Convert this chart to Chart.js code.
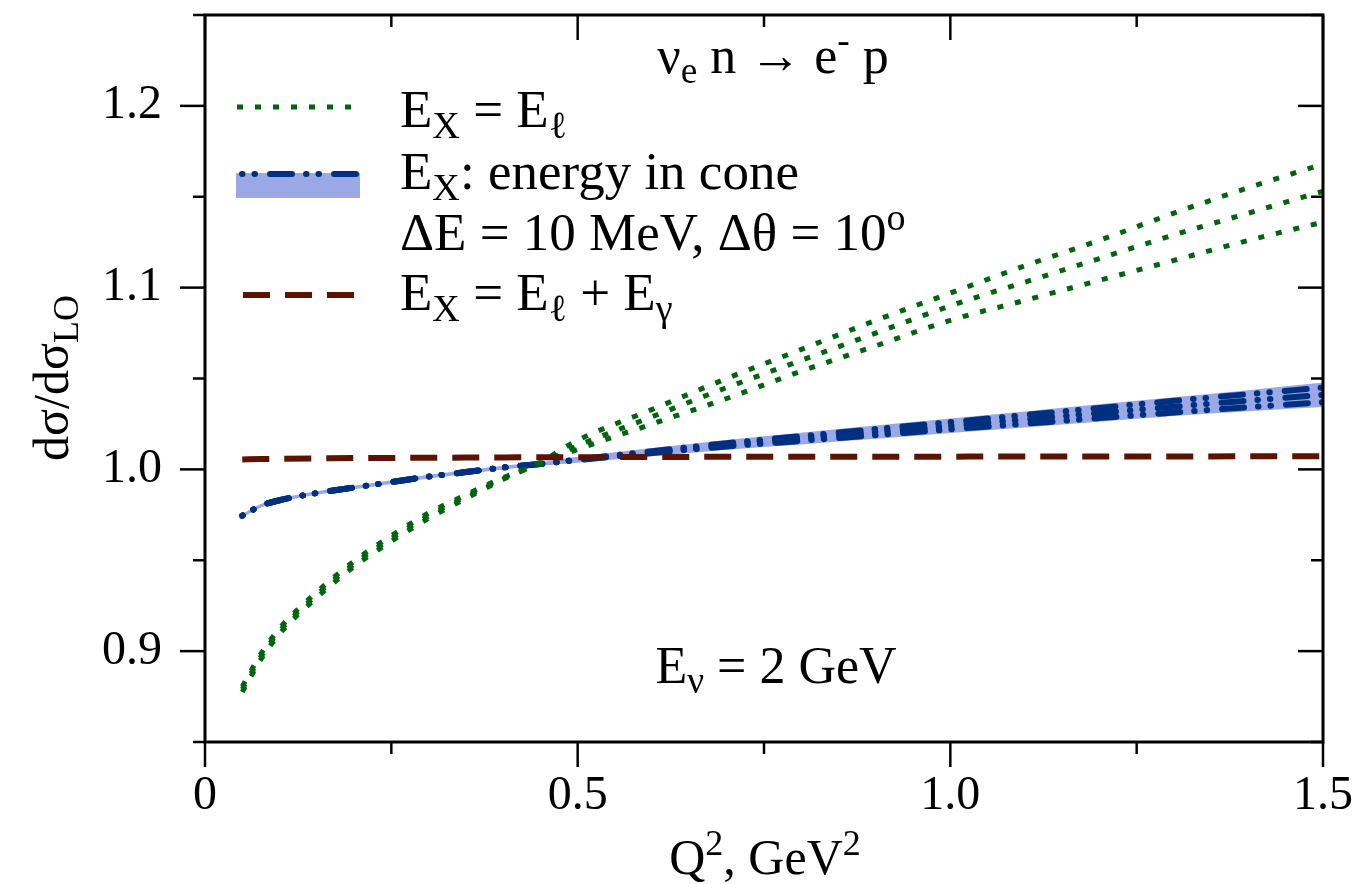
<!DOCTYPE html>
<html>
<head>
<meta charset="utf-8">
<script src="https://cdn.jsdelivr.net/npm/chart.js@4.4.1/dist/chart.umd.min.js"></script>
<style>
  html, body { margin: 0; padding: 0; background: #fff; }
  #chart { display: block; }
</style>
</head>
<body>
<canvas id="chart" width="1358" height="884"></canvas>
<script>
// Q^2 grid (GeV^2) shared by all curves
const q2 = [0.05, 0.075, 0.1, 0.15, 0.2, 0.25, 0.3, 0.35, 0.4, 0.45, 0.5,
            0.6, 0.7, 0.8, 0.9, 1.0, 1.1, 1.2, 1.3, 1.4, 1.5];

// E_X = E_l : three dotted curves
const lepHigh = [0.8775, 0.8955, 0.9095, 0.9295, 0.9465, 0.9605, 0.973, 0.9840, 0.9945, 1.0040, 1.0160,
                 1.033, 1.050, 1.066, 1.082, 1.097, 1.112, 1.126, 1.141, 1.155, 1.168];
const lepMid  = [0.879, 0.897, 0.911, 0.931, 0.948, 0.962, 0.9745, 0.9850, 0.9950, 1.0035, 1.0130,
                 1.029, 1.045, 1.060, 1.075, 1.090, 1.103, 1.116, 1.129, 1.141, 1.153];
const lepLow  = [0.8805, 0.8985, 0.9125, 0.9325, 0.9495, 0.9635, 0.976, 0.9860, 0.9955, 1.0030, 1.0110,
                 1.025, 1.039, 1.054, 1.068, 1.082, 1.093, 1.104, 1.115, 1.126, 1.136];

// E_X: energy in cone, three dash-dot curves and the band around them
const coneHigh = [0.9745, 0.980, 0.983, 0.987, 0.990, 0.993, 0.996, 0.9985, 1.001, 1.003, 1.0055,
                  1.0100, 1.0144, 1.0183, 1.0222, 1.0260, 1.0299, 1.0338, 1.0377, 1.0414, 1.0450];
const coneMid  = [0.9745, 0.980, 0.983, 0.987, 0.990, 0.993, 0.996, 0.9985, 1.001, 1.003, 1.0053,
                  1.0095, 1.0135, 1.0170, 1.0205, 1.0240, 1.0275, 1.0310, 1.0345, 1.0378, 1.0410];
const coneLow  = [0.9745, 0.980, 0.983, 0.987, 0.990, 0.993, 0.996, 0.9985, 1.001, 1.003, 1.0051,
                  1.0090, 1.0126, 1.0157, 1.0188, 1.0220, 1.0251, 1.0282, 1.0313, 1.0342, 1.0370];
const bandHigh = [0.9755, 0.981, 0.984, 0.988, 0.991, 0.994, 0.997, 0.9995, 1.002, 1.004, 1.0070,
                  1.0118, 1.0162, 1.0202, 1.0242, 1.0280, 1.0319, 1.0358, 1.0397, 1.0436, 1.0478];
const bandLow  = [0.9735, 0.979, 0.982, 0.986, 0.989, 0.992, 0.995, 0.9975, 1.000, 1.002, 1.0036,
                  1.0072, 1.0108, 1.0137, 1.0168, 1.0200, 1.0231, 1.0262, 1.0293, 1.0320, 1.0343];

// E_X = E_l + E_gamma
const totalE = [1.0055, 1.0057, 1.0058, 1.0060, 1.0062, 1.0063, 1.0064, 1.0065, 1.0066, 1.0067, 1.0067,
                1.0068, 1.0069, 1.0069, 1.0070, 1.0070, 1.0071, 1.0071, 1.0071, 1.0072, 1.0072];

const xTickVals = [0, 0.5, 1.0, 1.5];
const xTickLabels = ['0', '0.5', '1.0', '1.5'];
const xMinor = [0.25, 0.75, 1.25];
const yTickVals = [0.9, 1.0, 1.1, 1.2];
const yTickLabels = ['0.9', '1.0', '1.1', '1.2'];
const yMinor = [0.85, 0.95, 1.05, 1.15, 1.25];

const FONT = '"Liberation Serif", "Times New Roman", serif';
const GREEN = '#00650d';
const BLUE = '#00307f';
const BAND = '#9aa9e6';
const BROWN = '#5c1304';
const greenDash = [6, 12];
const blueDash = [22, 14, 0.5, 12, 0.5, 15];   // round caps add 3px each end
const brownDash = [27, 15];

const pts = (ys) => q2.map((x, i) => ({ x: x, y: ys[i] }));

// text with sub/superscripts, parts = [[text, 'sub'|'sup'|undefined], ...]
function richText(ctx, parts, x, y, size, align) {
  const segs = parts.map(([t, kind]) => {
    const s = kind ? size * 0.72 : size;
    ctx.font = s + 'px ' + FONT;
    const dy = kind === 'sub' ? size * 0.2 : kind === 'sup' ? -size * 0.38 : 0;
    return { t, s, dy, w: ctx.measureText(t).width };
  });
  const total = segs.reduce((a, s) => a + s.w, 0);
  let cx = align === 'center' ? x - total / 2 : x;
  ctx.textAlign = 'left';
  ctx.textBaseline = 'alphabetic';
  segs.forEach(s => {
    ctx.font = s.s + 'px ' + FONT;
    ctx.fillText(s.t, cx, y + s.dy);
    cx += s.w;
  });
}

const decorPlugin = {
  id: 'decor',
  afterDatasetsDraw(chart) {
    const { ctx, chartArea: a, scales: { x, y } } = chart;
    ctx.save();
    ctx.strokeStyle = '#000';
    ctx.fillStyle = '#000';

    // frame
    ctx.lineWidth = 3;
    ctx.strokeRect(a.left, a.top, a.right - a.left, a.bottom - a.top);

    // ticks: outward on left/bottom, inward on top/right
    ctx.lineWidth = 2.5;
    const tick = (x1, y1, x2, y2) => { ctx.beginPath(); ctx.moveTo(x1, y1); ctx.lineTo(x2, y2); ctx.stroke(); };
    xTickVals.forEach(v => { const px = x.getPixelForValue(v); tick(px, a.bottom, px, a.bottom + 25); tick(px, a.top, px, a.top + 25); });
    xMinor.forEach(v => { const px = x.getPixelForValue(v); tick(px, a.bottom, px, a.bottom + 12); tick(px, a.top, px, a.top + 12); });
    yTickVals.forEach(v => { const py = y.getPixelForValue(v); tick(a.left - 25, py, a.left, py); tick(a.right - 25, py, a.right, py); });
    yMinor.forEach(v => { const py = y.getPixelForValue(v); tick(a.left - 12, py, a.left, py); tick(a.right - 12, py, a.right, py); });

    // legend
    ctx.lineWidth = 5;
    ctx.strokeStyle = GREEN;
    ctx.setLineDash(greenDash);
    tick(237, 107, 360, 107);
    ctx.fillStyle = BAND;
    ctx.fillRect(236, 173, 124, 25);
    ctx.strokeStyle = BLUE;
    ctx.lineWidth = 6;
    ctx.lineCap = 'round';
    ctx.setLineDash(blueDash);
    ctx.lineDashOffset = -30;
    tick(240, 174, 357, 174);
    ctx.lineDashOffset = 0;
    ctx.lineCap = 'butt';
    ctx.strokeStyle = BROWN;
    ctx.setLineDash(brownDash);
    tick(243, 295, 355, 295);
    ctx.setLineDash([]);

    ctx.fillStyle = '#000';
    const fs = 53;
    richText(ctx, [['E'], ['X', 'sub'], [' = E'], ['\u2113', 'sub']], 400, 127, fs);
    richText(ctx, [['E'], ['X', 'sub'], [': energy in cone']], 400, 189, fs);
    richText(ctx, [['\u0394E = 10 MeV, \u0394\u03b8 = 10'], ['o', 'sup']], 400, 250, fs);
    richText(ctx, [['E'], ['X', 'sub'], [' = E'], ['\u2113', 'sub'], [' + E'], ['\u03b3', 'sub']], 400, 310, fs);

    // annotations
    richText(ctx, [['\u03bd'], ['e', 'sub'], [' n \u2192 e'], ['-', 'sup'], [' p']], 773, 73, 52, 'center');
    richText(ctx, [['E'], ['\u03bd', 'sub'], [' = 2 GeV']], 776, 683, 52, 'center');

    // axis titles
    richText(ctx, [['Q'], ['2', 'sup'], [', GeV'], ['2', 'sup']], 765, 874, 50, 'center');
    ctx.translate(68, 378);
    ctx.rotate(-Math.PI / 2);
    richText(ctx, [['d\u03c3/d\u03c3'], ['LO', 'sub']], 0, 0, 50, 'center');
    ctx.restore();
  }
};

const lineSet = (data, color, dash, width, order, extra) => Object.assign({
  data: pts(data), borderColor: color, borderWidth: width, borderDash: dash,
  pointRadius: 0, fill: false, cubicInterpolationMode: 'monotone', order: order
}, extra || {});

const coneStyle = { borderCapStyle: 'round', borderDashOffset: 36 };

new Chart(document.getElementById('chart'), {
  type: 'line',
  data: {
    datasets: [
      lineSet(bandHigh, 'rgba(0,0,0,0)', [], 0, 10, { fill: '+1', backgroundColor: BAND }),
      lineSet(bandLow, 'rgba(0,0,0,0)', [], 0, 11),
      lineSet(coneHigh, BLUE, blueDash, 6, 6, coneStyle),
      lineSet(coneMid, BLUE, blueDash, 6, 6, coneStyle),
      lineSet(coneLow, BLUE, blueDash, 6, 6, coneStyle),
      lineSet(lepHigh, GREEN, greenDash, 5, 4),
      lineSet(lepMid, GREEN, greenDash, 5, 4),
      lineSet(lepLow, GREEN, greenDash, 5, 4),
      lineSet(totalE, BROWN, brownDash, 6, 2)
    ]
  },
  options: {
    responsive: false,
    animation: false,
    layout: { padding: { left: 0, right: 35, top: 15, bottom: 0 } },
    plugins: { legend: { display: false }, tooltip: { enabled: false } },
    scales: {
      x: {
        type: 'linear', min: 0, max: 1.5,
        grid: { display: false }, border: { display: false },
        afterFit(s) { s.height = 142; s.paddingLeft = 0; s.paddingRight = 0; },
        afterBuildTicks(s) { s.ticks = xTickVals.map(v => ({ value: v })); },
        ticks: {
          padding: 18, color: '#000', autoSkip: false, maxRotation: 0,
          font: { family: FONT, size: 48 },
          callback: (v, i) => xTickLabels[i]
        }
      },
      y: {
        type: 'linear', min: 0.85, max: 1.25,
        grid: { display: false }, border: { display: false },
        afterFit(s) { s.width = 205; s.paddingTop = 0; s.paddingBottom = 0; },
        afterBuildTicks(s) { s.ticks = yTickVals.map(v => ({ value: v })); },
        ticks: {
          padding: 35, color: '#000', autoSkip: false,
          font: { family: FONT, size: 48 },
          callback: (v, i) => yTickLabels[i]
        }
      }
    }
  },
  plugins: [decorPlugin]
});
</script>
</body>
</html>
